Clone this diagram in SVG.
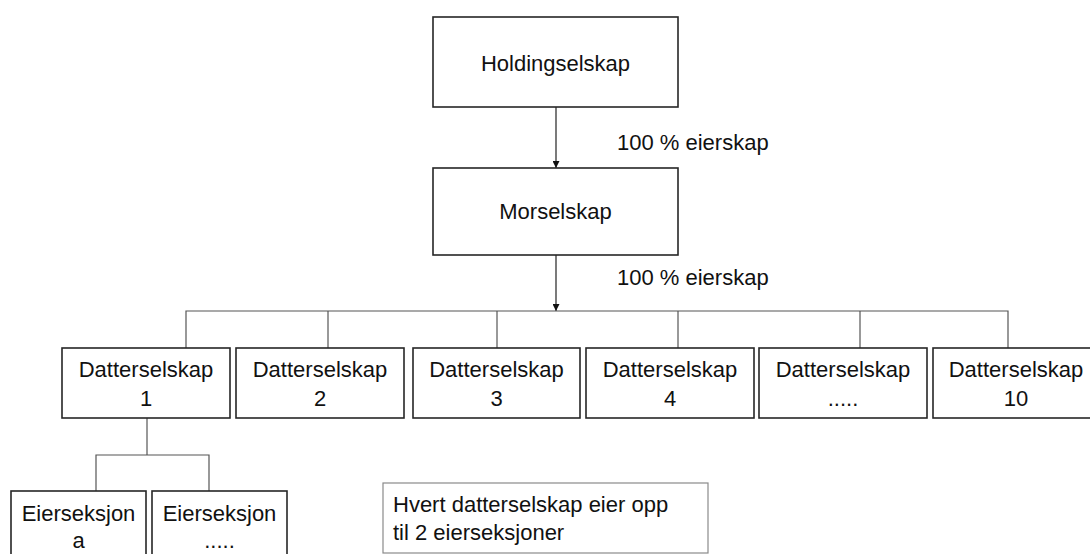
<svg xmlns="http://www.w3.org/2000/svg" width="1090" height="554" viewBox="0 0 1090 554">
<defs>
<style>
.box{fill:#fff;stroke:#262626;stroke-width:1.6}
.note{fill:#fff;stroke:#8a8a8a;stroke-width:1.2}
.t{font-family:"Liberation Sans",Arial,sans-serif;font-size:22px;fill:#111;text-anchor:middle}
.tl{font-family:"Liberation Sans",Arial,sans-serif;font-size:22px;fill:#111}
.c{fill:none;stroke:#555;stroke-width:1.2}
.a{fill:none;stroke:#222;stroke-width:1.2}
</style>
<marker id="arr" viewBox="0 0 10 10" refX="10" refY="5" markerWidth="7" markerHeight="7" markerUnits="userSpaceOnUse" orient="auto">
<path d="M0,0 L10,5 L0,10 z" fill="#111"/>
</marker>
</defs>
<rect width="1090" height="554" fill="#fff"/>
<g id="connectors">
<line class="a" x1="556" y1="107" x2="556" y2="168" marker-end="url(#arr)"/>
<line class="a" x1="556" y1="255" x2="556" y2="311" marker-end="url(#arr)"/>
<polyline class="c" points="186,348 186,311 1008,311 1008,348"/>
<line class="c" x1="328" y1="311" x2="328" y2="348"/>
<line class="c" x1="497" y1="311" x2="497" y2="348"/>
<line class="c" x1="678" y1="311" x2="678" y2="348"/>
<line class="c" x1="860" y1="311" x2="860" y2="348"/>
<line class="c" x1="147" y1="418" x2="147" y2="455"/>
<polyline class="c" points="96,491 96,455 209,455 209,491"/>
<text class="tl" x="617" y="150">100 % eierskap</text>
<text class="tl" x="617" y="285">100 % eierskap</text>
</g>
<g id="holding">
<rect class="box" x="433" y="17" width="245" height="90"/>
<text class="t" x="555.5" y="71">Holdingselskap</text>
</g>
<g id="morselskap">
<rect class="box" x="433" y="168" width="245" height="87"/>
<text class="t" x="555.5" y="219">Morselskap</text>
</g>
<g id="datter1">
<rect class="box" x="62" y="348" width="168" height="70"/>
<text class="t" x="146" y="377">Datterselskap</text>
<text class="t" x="146" y="406">1</text>
</g>
<g id="datter2">
<rect class="box" x="236" y="348" width="168" height="70"/>
<text class="t" x="320" y="377">Datterselskap</text>
<text class="t" x="320" y="406">2</text>
</g>
<g id="datter3">
<rect class="box" x="413" y="348" width="167" height="70"/>
<text class="t" x="496.5" y="377">Datterselskap</text>
<text class="t" x="496.5" y="406">3</text>
</g>
<g id="datter4">
<rect class="box" x="586" y="348" width="168" height="70"/>
<text class="t" x="670" y="377">Datterselskap</text>
<text class="t" x="670" y="406">4</text>
</g>
<g id="datter5">
<rect class="box" x="759" y="348" width="168" height="70"/>
<text class="t" x="843" y="377">Datterselskap</text>
<text class="t" x="843" y="406">.....</text>
</g>
<g id="datter10">
<rect class="box" x="933" y="348" width="168" height="70"/>
<text class="t" x="1016" y="377">Datterselskap</text>
<text class="t" x="1016" y="406">10</text>
</g>
<g id="eier-a">
<rect class="box" x="11" y="491" width="135" height="72"/>
<text class="t" x="78.5" y="521">Eierseksjon</text>
<text class="t" x="78.5" y="548">a</text>
</g>
<g id="eier-b">
<rect class="box" x="152" y="491" width="135" height="72"/>
<text class="t" x="219.5" y="521">Eierseksjon</text>
<text class="t" x="219.5" y="548">.....</text>
</g>
<g id="note">
<rect class="note" x="383" y="483" width="325" height="70"/>
<text class="tl" x="393" y="512">Hvert datterselskap eier opp</text>
<text class="tl" x="393" y="540">til 2 eierseksjoner</text>
</g>
</svg>
